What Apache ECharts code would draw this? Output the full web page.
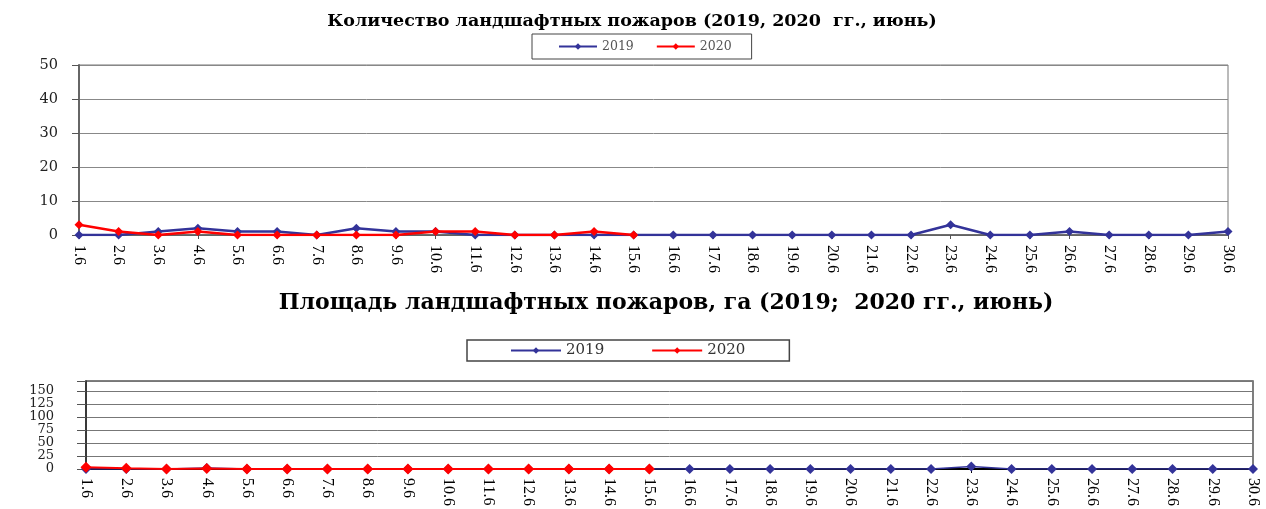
<!DOCTYPE html>
<html>
<head>
<meta charset="utf-8">
<script src="https://cdn.jsdelivr.net/npm/echarts@6/dist/echarts.min.js"></script>
<style>
html,body{margin:0;padding:0;background:#fff;}
#chart{width:1266px;height:509px;}
</style>
</head>
<body>
<div id="chart"></div>
<script>
// ---- data ----
var days = ['1.6','2.6','3.6','4.6','5.6','6.6','7.6','8.6','9.6','10.6',
            '11.6','12.6','13.6','14.6','15.6','16.6','17.6','18.6','19.6','20.6',
            '21.6','22.6','23.6','24.6','25.6','26.6','27.6','28.6','29.6','30.6'];
var seriesNames = ['2019', '2020'];
var count2019 = [0,0,1,2,1,1,0,2,1,1,0,0,0,0,0,0,0,0,0,0,0,0,3,0,0,1,0,0,0,1];
var count2020 = [3,1,0,1,0,0,0,0,0,1,1,0,0,1,0];
var area2019  = [0,0,0,2,0,0,0,0,0,0,0,0,0,0,0,0,0,0,0,0,0,0,5,0,0,0,0,0,0,0];
var area2020  = [3.5,1.5,0,1,0,0,0,0,0,0,0,0,0,0,0];
var countTicks = [0,10,20,30,40,50];
var areaTicks  = [0,25,50,75,100,125,150];
var titleCount = 'Количество ландшафтных пожаров (2019, 2020  гг., июнь)';
var titleArea  = 'Площадь ландшафтных пожаров, га (2019;  2020 гг., июнь)';

var BLUE = '#333399', RED = '#ff0000';
var SERIF = 'Liberation Serif';
var WIDE = 'DejaVu Serif';

var chart = echarts.init(document.getElementById('chart'), null, {renderer: 'canvas'});

var option = {
  animation: false,
  backgroundColor: '#fff',
  title: [
    {text: titleCount, left: 627, top: 7, textAlign: 'center',
     textStyle: {fontFamily: WIDE, fontWeight: 'bold', fontSize: 17.5, color: '#000'}},
    {text: titleArea, left: 661, top: 287, textAlign: 'center',
     textStyle: {fontFamily: WIDE, fontWeight: 'bold', fontSize: 22, color: '#000'}}
  ],
  legend: [
    {data: seriesNames, left: 532, top: 34, orient: 'horizontal',
     padding: [6, 20, 6, 26], itemGap: 22, itemWidth: 38, itemHeight: 8,
     borderColor: '#444', borderWidth: 1,
     textStyle: {fontFamily: WIDE, fontSize: 12.5, color: '#555'}},
    {data: seriesNames, left: 467, top: 340, orient: 'horizontal',
     padding: [3, 44, 3, 43], itemGap: 47, itemWidth: 50, itemHeight: 8,
     borderColor: '#444', borderWidth: 1.5,
     textStyle: {fontFamily: WIDE, fontSize: 15, color: '#333'}}
  ],
  grid: [
    {left: 79, right: 38, top: 65, height: 170, show: true, borderColor: '#777', borderWidth: 1, containLabel: false},
    {left: 86, right: 13, top: 381, height: 91, show: true, borderColor: '#555', borderWidth: 1.5, containLabel: false}
  ],
  xAxis: [
    {type: 'category', gridIndex: 0, data: days, boundaryGap: false,
     axisLine: {lineStyle: {color: '#555', width: 1.5}},
     axisTick: {show: true, length: 4, alignWithLabel: true, lineStyle: {color: '#555'}},
     axisLabel: {interval: 0, rotate: -90, margin: 10, fontFamily: SERIF, fontSize: 16, color: '#000'},
     splitLine: {show: false}},
    {type: 'category', gridIndex: 1, data: days, boundaryGap: false,
     axisLine: {lineStyle: {color: '#000', width: 2}},
     axisTick: {show: true, length: 4, alignWithLabel: true, lineStyle: {color: '#000'}},
     axisLabel: {interval: 0, rotate: -90, margin: 9, fontFamily: SERIF, fontSize: 16, color: '#000'},
     splitLine: {show: false}}
  ],
  yAxis: [
    {type: 'value', gridIndex: 0, min: countTicks[0], max: countTicks[countTicks.length - 1], interval: 10,
     axisLine: {show: true, lineStyle: {color: '#666', width: 2}},
     axisTick: {show: true, inside: false, length: 7, lineStyle: {color: '#555'}},
     axisLabel: {margin: 21, fontFamily: WIDE, fontSize: 14.5, color: '#222', showMinLabel: true},
     splitLine: {show: true, lineStyle: {color: '#888', width: 1}}},
    {type: 'value', gridIndex: 1, min: areaTicks[0], max: 169, interval: 25,
     axisLine: {show: true, lineStyle: {color: '#222', width: 1.5}},
     axisTick: {show: true, inside: false, length: 9, lineStyle: {color: '#555'}},
     axisLabel: {margin: 32, fontFamily: WIDE, fontSize: 13, color: '#222', lineHeight: 9,
       showMinLabel: true, showMaxLabel: true, hideOverlap: false,
       formatter: function (v) { return areaTicks.indexOf(v) >= 0 ? String(v) : ''; }},
     splitLine: {show: true, lineStyle: {color: '#777', width: 1}}}
  ],
  series: [
    {name: seriesNames[0], type: 'line', xAxisIndex: 0, yAxisIndex: 0, data: count2019,
     symbol: 'diamond', symbolSize: 9, itemStyle: {color: BLUE}, lineStyle: {color: BLUE, width: 2.5}, z: 3},
    {name: seriesNames[1], type: 'line', xAxisIndex: 0, yAxisIndex: 0, data: count2020,
     symbol: 'diamond', symbolSize: 9, itemStyle: {color: RED}, lineStyle: {color: RED, width: 2.5}, z: 4},
    {name: seriesNames[0], type: 'line', xAxisIndex: 1, yAxisIndex: 1, data: area2019,
     symbol: 'diamond', symbolSize: 10, itemStyle: {color: BLUE}, lineStyle: {color: BLUE, width: 1.5}, z: 3},
    {name: seriesNames[1], type: 'line', xAxisIndex: 1, yAxisIndex: 1, data: area2020,
     symbol: 'diamond', symbolSize: 11, itemStyle: {color: RED}, lineStyle: {color: RED, width: 2}, z: 4}
  ]
};
chart.setOption(option);
</script>
</body>
</html>
